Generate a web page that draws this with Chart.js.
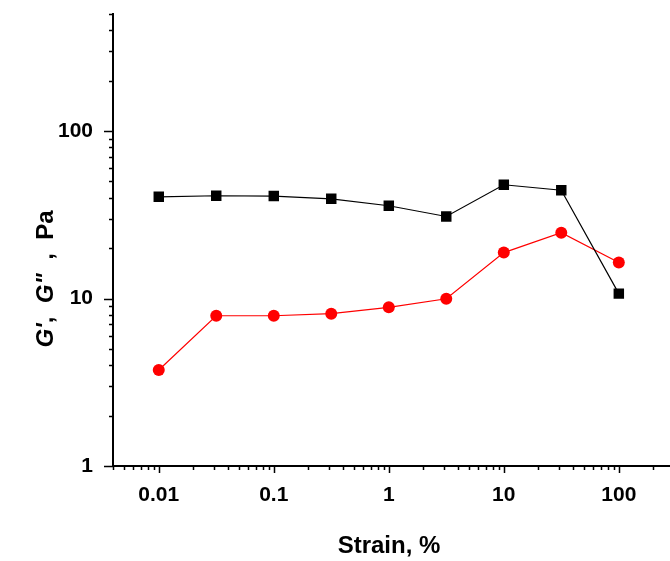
<!DOCTYPE html>
<html>
<head>
<meta charset="utf-8">
<script src="https://cdn.jsdelivr.net/npm/chart.js@4.4.1/dist/chart.umd.min.js"></script>
<style>
  html, body { margin: 0; padding: 0; background: #fff; overflow: hidden; }
  /* slightly wider than the window so the x axis runs off the right edge */
  #wrap { width: 678px; height: 561px; }
</style>
</head>
<body>
<div id="wrap"><canvas id="strainChart"></canvas></div>
<script>
// strain sweep: storage (G') and loss (G'') modulus
const strain = [0.01, 0.0316, 0.1, 0.316, 1, 3.16, 10, 31.6, 100];
const storageModulus = [40.5, 41.1, 40.9, 39.4, 35.8, 30.9, 47.8, 44.3, 10.7];
const lossModulus = [3.74, 7.89, 7.89, 8.12, 8.86, 9.97, 18.8, 24.7, 16.4];

const xRange = [0.004, 282];
const yRange = [1, 500];
const xLabels = [0.01, 0.1, 1, 10, 100];
const yLabels = [1, 10, 100];

const FONT = "'Liberation Sans', Arial, sans-serif";

// 1..9 x 10^n ticks inside [min, max]
function logTicks(min, max) {
  const out = [];
  for (let e = Math.floor(Math.log10(min)); e <= Math.ceil(Math.log10(max)); e++) {
    for (let m = 1; m <= 9; m++) {
      const v = parseFloat((m * Math.pow(10, e)).toPrecision(6));
      if (v >= min - 1e-12 && v <= max + 1e-9) out.push({ value: v, major: m === 1 });
    }
  }
  return out;
}

// tick marks of two lengths, plus axis titles
const axisDecor = {
  id: 'axisDecor',
  afterDraw(chart) {
    const ctx = chart.ctx;
    const xs = chart.scales.x, ys = chart.scales.y;
    const area = chart.chartArea;
    ctx.save();
    ctx.strokeStyle = '#000';
    ctx.lineWidth = 1.5;
    ctx.beginPath();
    xs.ticks.forEach(t => {
      const px = Math.round(xs.getPixelForValue(t.value)) + 0.5;
      const len = t.major ? 7 : 4;
      ctx.moveTo(px, area.bottom);
      ctx.lineTo(px, area.bottom + len);
    });
    ys.ticks.forEach(t => {
      const py = Math.round(ys.getPixelForValue(t.value)) + 0.5;
      const len = t.major ? 9 : 4;
      ctx.moveTo(area.left, py);
      ctx.lineTo(area.left - len, py);
    });
    ctx.stroke();

    ctx.fillStyle = '#000';
    ctx.textBaseline = 'middle';
    ctx.textAlign = 'center';
    ctx.font = 'bold 24px ' + FONT;
    ctx.fillText('Strain, %', 389, 546);

    // y title with italic symbols
    const parts = [
      ["G'", 'italic bold'],
      [',  ', 'bold'],
      ['G"', 'italic bold'],
      ['  ,  Pa', 'bold']
    ];
    ctx.translate(46, 279);
    ctx.rotate(-Math.PI / 2);
    const size = ' 24px ';
    let total = 0;
    parts.forEach(p => { ctx.font = p[1] + size + FONT; total += ctx.measureText(p[0]).width; });
    let x = -total / 2;
    ctx.textAlign = 'left';
    parts.forEach(p => {
      ctx.font = p[1] + size + FONT;
      ctx.fillText(p[0], x, 0);
      x += ctx.measureText(p[0]).width;
    });
    ctx.restore();
  }
};

const ctx = document.getElementById('strainChart').getContext('2d');
new Chart(ctx, {
  type: 'line',
  data: {
    datasets: [{
      label: "G'",
      data: strain.map((s, i) => ({ x: s, y: storageModulus[i] })),
      borderColor: '#000',
      backgroundColor: '#000',
      borderWidth: 1.2,
      pointStyle: 'rect',
      pointRadius: 7.4,
      pointBorderWidth: 0,
      tension: 0
    }, {
      label: 'G"',
      data: strain.map((s, i) => ({ x: s, y: lossModulus[i] })),
      borderColor: '#ff0000',
      backgroundColor: '#ff0000',
      borderWidth: 1.2,
      pointStyle: 'circle',
      pointRadius: 6,
      pointBorderWidth: 0,
      tension: 0
    }]
  },
  options: {
    responsive: true,
    maintainAspectRatio: false,
    animation: false,
    events: [],
    layout: { padding: { top: 14, right: 0, left: 0, bottom: 0 } },
    plugins: { legend: { display: false }, tooltip: { enabled: false } },
    scales: {
      x: {
        type: 'logarithmic',
        min: xRange[0],
        max: xRange[1],
        afterBuildTicks: scale => { scale.ticks = logTicks(xRange[0], xRange[1]); },
        afterFit: scale => {
          scale.height = 95;
          scale.paddingLeft = 0;
          scale.paddingRight = 0;
        },
        grid: { display: false },
        border: { display: true, color: '#000', width: 2 },
        ticks: {
          autoSkip: false,
          maxRotation: 0,
          minRotation: 0,
          padding: 9,
          color: '#000',
          font: { family: FONT, size: 21, weight: 'bold' },
          callback: v => xLabels.includes(v) ? String(v) : ''
        }
      },
      y: {
        type: 'logarithmic',
        min: yRange[0],
        max: yRange[1],
        afterBuildTicks: scale => { scale.ticks = logTicks(yRange[0], yRange[1]); },
        afterFit: scale => {
          scale.width = 113;
          scale.paddingTop = 0;
          scale.paddingBottom = 0;
        },
        grid: { display: false },
        border: { display: true, color: '#000', width: 2 },
        ticks: {
          autoSkip: false,
          padding: 12,
          color: '#000',
          font: { family: FONT, size: 21, weight: 'bold' },
          callback: v => yLabels.includes(v) ? String(v) : ''
        }
      }
    }
  },
  plugins: [axisDecor]
});
</script>
</body>
</html>
